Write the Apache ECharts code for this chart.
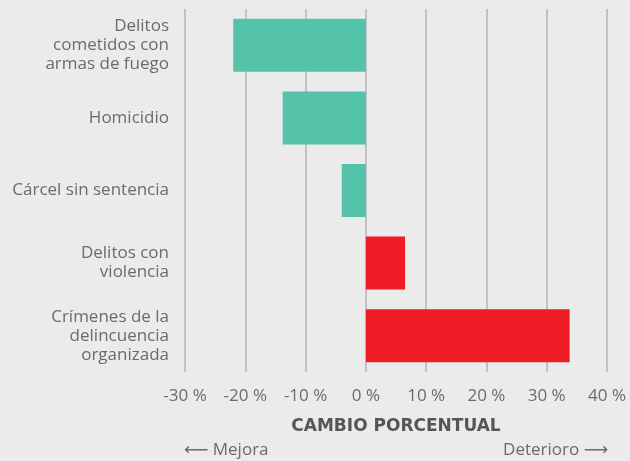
<!DOCTYPE html>
<html>
<head>
<meta charset="utf-8">
<script src="https://cdn.jsdelivr.net/npm/echarts@6/dist/echarts.min.js"></script>
<style>
  html, body { margin: 0; padding: 0; background: #ebebeb; }
  #chart { width: 630px; height: 461px; }
</style>
</head>
<body>
<div id="chart"></div>
<script>
var categories = [
  'Delitos\ncometidos con\narmas de fuego',
  'Homicidio',
  'Cárcel sin sentencia',
  'Delitos con\nviolencia',
  'Crímenes de la\ndelincuencia\norganizada'
];
var values = [-22, -13.8, -4, 6.5, 33.8];
var xTicks = [-30, -20, -10, 0, 10, 20, 30, 40];

var GREEN = '#55c3aa';
var RED = '#ee1c25';
var FONT = 'Open Sans';

var chart = echarts.init(document.getElementById('chart'));

var option = {
  backgroundColor: '#ebebeb',
  animation: false,
  grid: { left: 185, right: 23, top: 9, bottom: 89 },
  xAxis: {
    type: 'value',
    min: xTicks[0],
    max: xTicks[xTicks.length - 1],
    interval: 10,
    axisLine: { show: false },
    axisTick: { show: false },
    splitLine: { show: true, lineStyle: { color: '#b4b4b4', width: 1.5 } },
    axisLabel: {
      color: '#6b6b6b', fontFamily: FONT, fontSize: 17, margin: 16,
      formatter: function (v) { return v + ' %'; }
    },
    name: 'CAMBIO PORCENTUAL',
    nameLocation: 'middle',
    nameGap: 46,
    nameTextStyle: { color: '#555659', fontFamily: 'DejaVu Sans', fontSize: 17, fontWeight: 'bold' }
  },
  yAxis: {
    type: 'category',
    data: categories,
    inverse: true,
    axisLine: { show: false },
    axisTick: { show: false },
    axisLabel: {
      color: '#6b6b6b', fontFamily: FONT, fontSize: 17, lineHeight: 19, margin: 16,
      align: 'right', padding: [5, 0, 0, 0]
    }
  },
  series: [{
    type: 'bar',
    barWidth: 53,
    data: values.map(function (v) {
      return { value: v, itemStyle: { color: v < 0 ? GREEN : RED } };
    })
  }],
  graphic: [
    {
      type: 'text', left: 184, top: 442,
      style: { text: '⟵ Mejora', fill: '#6b6b6b', font: '17px "Open Sans", "DejaVu Sans"' }
    },
    {
      type: 'text', right: 22, top: 442,
      style: { text: 'Deterioro ⟶', fill: '#6b6b6b', font: '17px "Open Sans", "DejaVu Sans"', textAlign: 'right' }
    }
  ]
};

chart.setOption(option);
</script>
</body>
</html>
